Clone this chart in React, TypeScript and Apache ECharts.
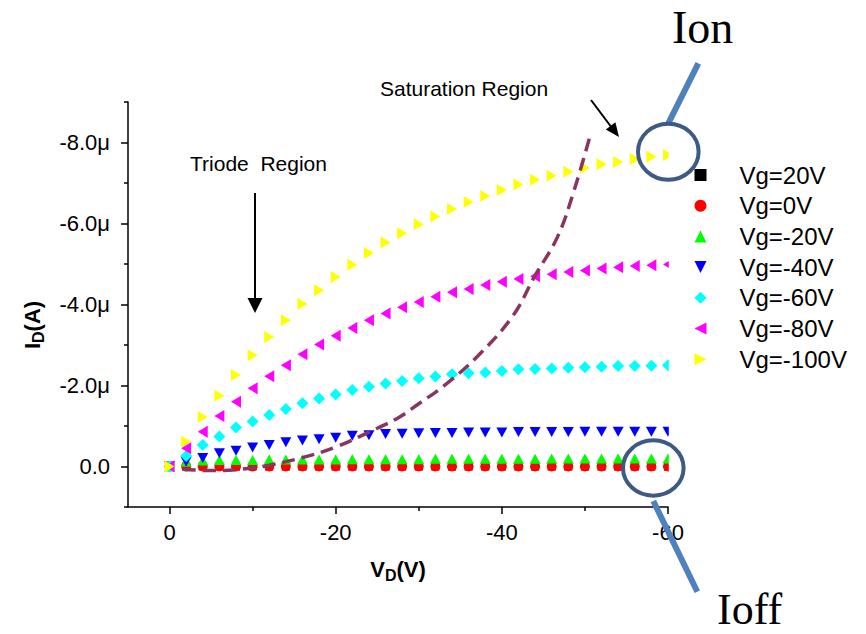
import { useEffect, useRef } from 'react';
import * as echarts from 'echarts';

// Drain voltage V_D (V)
const VD = [0, -2, -4, -6, -8, -10, -12, -14, -16, -18, -20, -22, -24, -26, -28, -30,
  -32, -34, -36, -38, -40, -42, -44, -46, -48, -50, -52, -54, -56, -58, -60];

// Drain current I_D (µA) for each gate voltage
const I_VG_P20 = [0, 0, 0, 0, 0, 0, 0, 0, 0, 0, 0, 0, 0, 0, 0, 0,
  0, 0, 0, 0, 0, 0, 0, 0, 0, 0, 0, 0, 0, 0, 0];
const I_VG_0 = [0, 0, 0, 0, 0, 0, 0, 0, 0, 0, 0, 0, 0, 0, 0, 0,
  0, 0, 0, 0, 0, 0, 0, 0, 0, 0, 0, 0, 0, 0, 0];
const I_VG_N20 = [0, -0.12, -0.15, -0.16, -0.16, -0.16, -0.17, -0.17, -0.17, -0.17, -0.17, -0.18, -0.18, -0.18, -0.18, -0.18,
  -0.19, -0.19, -0.19, -0.19, -0.19, -0.19, -0.19, -0.2, -0.2, -0.2, -0.2, -0.2, -0.2, -0.2, -0.2];
const I_VG_N40 = [0, -0.12, -0.21, -0.33, -0.39, -0.47, -0.53, -0.6, -0.64, -0.67, -0.71, -0.76, -0.77, -0.8, -0.81, -0.82,
  -0.83, -0.83, -0.84, -0.84, -0.84, -0.85, -0.85, -0.85, -0.85, -0.86, -0.86, -0.86, -0.86, -0.86, -0.86];
const I_VG_N60 = [0, -0.26, -0.53, -0.74, -0.96, -1.11, -1.27, -1.42, -1.56, -1.68, -1.78, -1.89, -1.97, -2.05, -2.11, -2.18,
  -2.22, -2.28, -2.3, -2.32, -2.36, -2.4, -2.41, -2.42, -2.44, -2.45, -2.46, -2.48, -2.48, -2.49, -2.5];
const I_VG_N80 = [0, -0.45, -0.86, -1.25, -1.6, -1.93, -2.23, -2.5, -2.77, -3.01, -3.23, -3.42, -3.61, -3.78, -3.93, -4.06,
  -4.19, -4.3, -4.38, -4.48, -4.56, -4.63, -4.7, -4.75, -4.8, -4.84, -4.89, -4.92, -4.95, -4.97, -4.99];
const I_VG_N100 = [0, -0.62, -1.22, -1.75, -2.26, -2.75, -3.2, -3.61, -4.01, -4.35, -4.68, -4.98, -5.27, -5.53, -5.76, -5.98,
  -6.17, -6.36, -6.53, -6.68, -6.83, -6.96, -7.08, -7.18, -7.28, -7.37, -7.46, -7.52, -7.59, -7.65, -7.69];

// Saturation boundary (dashed curve)
const SAT_VD = [-1.6, -5, -8.5, -12, -16, -20, -24, -27.5, -30, -33.4, -37.4, -41.4, -43.9, -46.7, -48.7, -50.6];
const SAT_I = [0.07, 0.1, 0.07, -0.03, -0.22, -0.48, -0.85, -1.2, -1.55, -2.05, -2.79, -3.74, -4.68, -5.67, -6.82, -8.15];

const SERIES_NAMES = ['Vg=20V', 'Vg=0V', 'Vg=-20V', 'Vg=-40V', 'Vg=-60V', 'Vg=-80V', 'Vg=-100V'];
const SERIES_VALUES = [I_VG_P20, I_VG_0, I_VG_N20, I_VG_N40, I_VG_N60, I_VG_N80, I_VG_N100];

// Axis ticks
const X_MAJOR = [-60, -40, -20, 0];
const X_MINOR = [-50, -30, -10];
const Y_MAJOR = [-8, -6, -4, -2, 0];
const Y_MINOR = [-9, -7, -5, -3, -1, 1];

const UP = 'path://M5,0L10,10L0,10Z';
const DOWN = 'path://M0,0L10,0L5,10Z';
const LEFT = 'path://M10,0L10,10L0,5Z';
const RIGHT = 'path://M0,0L10,5L0,10Z';

const STYLES = [
  { color: '#000000', symbol: 'rect', size: 8 },
  { color: '#FF0000', symbol: 'circle', size: 10 },
  { color: '#00FF00', symbol: UP, size: [11, 10] },
  { color: '#0000FF', symbol: DOWN, size: [11, 10] },
  { color: '#00FFFF', symbol: 'diamond', size: 12 },
  { color: '#FF00FF', symbol: LEFT, size: [10, 12] },
  { color: '#FFFF00', symbol: RIGHT, size: [10, 12] },
];

const FONT = "'Liberation Sans', Arial, sans-serif";
const SERIF = "'Liberation Serif', 'Times New Roman', serif";

export default function App() {
  const ref = useRef<HTMLDivElement>(null);

  useEffect(() => {
    const chart = echarts.init(ref.current!, null, { renderer: 'svg' });

    const scatter = SERIES_NAMES.map((name, k) => ({
      name,
      type: 'scatter',
      xAxisIndex: 0,
      yAxisIndex: 0,
      symbol: STYLES[k].symbol,
      symbolSize: STYLES[k].size,
      itemStyle: { color: STYLES[k].color, opacity: 1 },
      data: VD.map((x, i) => [x, SERIES_VALUES[k][i]]),
      clip: false,
    }));

    const nameRich = {
      a: { fontSize: 22, fontWeight: 'bold', fontFamily: FONT, color: '#000' },
      s: { fontSize: 16, fontWeight: 'bold', fontFamily: FONT, color: '#000', padding: [12, 0, 0, 0] },
    };

    const axisLineStyle = { color: '#000', width: 1.5 };

    const option: any = {
      animation: false,
      backgroundColor: '#ffffff',
      grid: { left: 128, right: 198, top: 102, bottom: 127, containLabel: false },
      legend: {
        orient: 'vertical',
        left: 694.5,
        top: 163,
        padding: 0,
        itemWidth: 12,
        itemHeight: 12,
        itemGap: 6.7,
        selectedMode: false,
        textStyle: { fontSize: 24, fontFamily: FONT, color: '#000', lineHeight: 24, padding: [0, 0, 0, 28] },
        data: SERIES_NAMES.map((name, k) => ({ name, icon: STYLES[k].symbol })),
      },
      xAxis: [
        {
          type: 'value',
          min: -60,
          max: 5,
          inverse: true,
          position: 'bottom',
          name: '{a|V}{s|D}{a|(V)}',
          nameLocation: 'middle',
          nameGap: 48,
          nameTextStyle: { rich: nameRich },
          axisLine: { show: true, onZero: false, lineStyle: axisLineStyle },
          axisTick: { show: true, length: 7, inside: false, customValues: X_MAJOR, lineStyle: axisLineStyle },
          axisLabel: {
            show: true,
            customValues: X_MAJOR,
            fontSize: 22,
            fontFamily: FONT,
            color: '#000',
            margin: 14,
            formatter: (v: number) => String(v),
          },
          splitLine: { show: false },
        },
        {
          type: 'value',
          min: -60,
          max: 5,
          inverse: true,
          position: 'bottom',
          axisLine: { show: false, onZero: false },
          axisTick: { show: true, length: 4, customValues: X_MINOR, lineStyle: axisLineStyle },
          axisLabel: { show: false },
          splitLine: { show: false },
        },
      ],
      yAxis: [
        {
          type: 'value',
          min: -9,
          max: 1,
          inverse: true,
          position: 'left',
          name: '{a|I}{s|D}{a|(A)}',
          nameLocation: 'middle',
          nameGap: 82,
          nameRotate: 90,
          nameTextStyle: { rich: nameRich, padding: [0, 41, 0, 0] },
          axisLine: { show: true, onZero: false, lineStyle: axisLineStyle },
          axisTick: { show: true, length: 7, customValues: Y_MAJOR, lineStyle: axisLineStyle },
          axisLabel: {
            show: true,
            customValues: Y_MAJOR,
            fontSize: 22,
            fontFamily: FONT,
            color: '#000',
            margin: 18,
            formatter: (v: number) => (v === 0 ? '0.0' : v.toFixed(1) + 'μ'),
          },
          splitLine: { show: false },
        },
        {
          type: 'value',
          min: -9,
          max: 1,
          inverse: true,
          position: 'left',
          axisLine: { show: false, onZero: false },
          axisTick: { show: true, length: 4, customValues: Y_MINOR, lineStyle: axisLineStyle },
          axisLabel: { show: false },
          splitLine: { show: false },
        },
      ],
      series: [
        ...scatter,
        {
          name: 'saturation',
          type: 'line',
          xAxisIndex: 0,
          yAxisIndex: 0,
          smooth: 0.4,
          showSymbol: false,
          symbol: 'none',
          lineStyle: { color: '#8B3462', width: 3.5, type: [13, 7] },
          data: SAT_VD.map((x, i) => [x, SAT_I[i]]),
          z: 3,
        },
      ],
      graphic: [
        // mask: half-clip the last column of markers at the plot edge
        { type: 'rect', z: 50, shape: { x: 668.8, y: 60, width: 14, height: 445 }, style: { fill: '#ffffff' } },
        {
          type: 'text', z: 60,
          style: { text: 'Triode  Region', x: 190, y: 163, font: `21px ${FONT}`, fill: '#000', textVerticalAlign: 'middle' },
        },
        {
          type: 'text', z: 60,
          style: { text: 'Saturation Region', x: 380, y: 88, font: `21px ${FONT}`, fill: '#000', textVerticalAlign: 'middle' },
        },
        { type: 'line', z: 60, shape: { x1: 255, y1: 193, x2: 255, y2: 299 }, style: { stroke: '#000', lineWidth: 2 } },
        { type: 'polygon', z: 60, shape: { points: [[247.5, 298], [262.5, 298], [255, 313]] }, style: { fill: '#000' } },
        { type: 'line', z: 60, shape: { x1: 591, y1: 100, x2: 612, y2: 128 }, style: { stroke: '#000', lineWidth: 2 } },
        { type: 'polygon', z: 60, shape: { points: [[605.8, 129.4], [615.4, 122.2], [619, 137]] }, style: { fill: '#000' } },
        // Ion
        { type: 'line', z: 100, shape: { x1: 668.3, y1: 123.3, x2: 698.3, y2: 63.3 }, style: { stroke: '#4F81BD', lineWidth: 6 } },
        { type: 'ellipse', z: 101, shape: { cx: 668.3, cy: 151.7, rx: 30.3, ry: 28 }, style: { stroke: '#3C5A84', lineWidth: 4, fill: null } },
        {
          type: 'text', z: 101,
          style: { text: 'Ion', x: 672, y: 27.5, font: `46px ${SERIF}`, fill: '#000', textVerticalAlign: 'middle' },
        },
        // Ioff
        { type: 'line', z: 100, shape: { x1: 653.3, y1: 501, x2: 697.3, y2: 591.7 }, style: { stroke: '#4F81BD', lineWidth: 6 } },
        { type: 'ellipse', z: 101, shape: { cx: 653.3, cy: 468, rx: 30.3, ry: 27.7 }, style: { stroke: '#3C5A84', lineWidth: 4, fill: null } },
        {
          type: 'text', z: 101,
          style: { text: 'Ioff', x: 717, y: 609, font: `44px ${SERIF}`, fill: '#000', textVerticalAlign: 'middle' },
        },
      ],
    };

    chart.setOption(option);
    return () => chart.dispose();
  }, []);

  return <div ref={ref} style={{ position: 'fixed', left: 0, top: 0, width: 866, height: 634 }} />;
}
